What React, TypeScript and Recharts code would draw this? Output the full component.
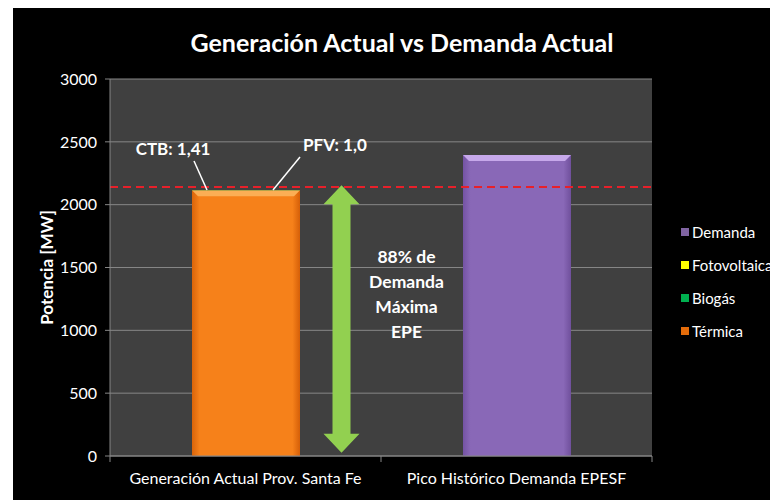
import {
  Bar,
  BarChart,
  CartesianGrid,
  Legend,
  ReferenceLine,
  XAxis,
  YAxis,
} from "recharts";

const categories = ["Generación Actual Prov. Santa Fe", "Pico Histórico Demanda EPESF"];
const termica = [2115, 0];
const biogas = [1.41, 0];
const fotovoltaica = [1.0, 0];
const demanda = [0, 2395];
const yTicks = [0, 500, 1000, 1500, 2000, 2500, 3000];
const demandaMaxima = 2140;
const arrowRange = [2155, 25];
const arrowText = ["88% de", "Demanda", "Máxima", "EPE"];
const legendOrder = ["Demanda", "Fotovoltaica", "Biogás", "Térmica"];

const data = categories.map((name, i) => ({
  name,
  termica: termica[i],
  biogas: biogas[i],
  fotovoltaica: fotovoltaica[i],
  demanda: demanda[i],
}));

const fmt = (v: number) => v.toFixed(v % 1 === 0 ? 1 : 2).replace(".", ",");

const BevelBar = (props: any) => {
  const { x, y, width, height, dataKey } = props;
  if (!height || height <= 0) return null;
  const b = 6;
  const isT = dataKey === "termica";
  return (
    <g>
      <rect x={x} y={y} width={width} height={height} fill={isT ? "url(#gradT)" : "url(#gradD)"} />
      <polygon
        points={`${x},${y} ${x + width},${y} ${x + width - b},${y + b} ${x + b},${y + b}`}
        fill={isT ? "#fbae55" : "#c6a8ea"}
      />
    </g>
  );
};

// leader lines for the tiny CTB / PFV segments on top of the first bar
const Callouts = (props: any) => {
  const { index } = props;
  const vb = props.viewBox || props;
  if (!biogas[index]) return null;
  const { x, y, width } = vb;
  return (
    <g fill="#fff" fontWeight="bold" fontSize={17}>
      <line x1={x + 15} y1={y} x2={x + 2} y2={y - 29} stroke="#fff" strokeWidth={1.5} />
      <text x={x - 19} y={y - 35} textAnchor="middle">
        CTB: {fmt(biogas[index])}
      </text>
      <line x1={x + 81} y1={y} x2={x + width} y2={y - 33} stroke="#fff" strokeWidth={1.5} />
      <text x={x + width + 3} y={y - 39} textAnchor="start">
        PFV: {fmt(fotovoltaica[index])}
      </text>
    </g>
  );
};

const ArrowShape = (props: any) => {
  const { x1, y1, y2 } = props;
  const cx = x1 + 96;
  const hw = 18;
  const sw = 9;
  const hh = 19;
  const pts = [
    [cx, y1], [cx + hw, y1 + hh], [cx + sw, y1 + hh], [cx + sw, y2 - hh], [cx + hw, y2 - hh],
    [cx, y2], [cx - hw, y2 - hh], [cx - sw, y2 - hh], [cx - sw, y1 + hh], [cx - hw, y1 + hh],
  ];
  return (
    <g>
      <polygon points={pts.map((p) => p.join(",")).join(" ")} fill="#92d050" />
      {arrowText.map((t, i) => (
        <text key={t} x={cx + 65} y={y1 + 78 + i * 25} textAnchor="middle" fill="#fff" fontWeight="bold" fontSize={17.5}>
          {t}
        </text>
      ))}
    </g>
  );
};

const XTick = (props: any) => {
  const { x, y, payload, index } = props;
  const half = payload.offset ?? 0;
  return (
    <g>
      <line x1={x - half} x2={x - half} y1={y - 8} y2={y - 2} stroke="#868686" />
      {index === categories.length - 1 && (
        <line x1={x + half} x2={x + half} y1={y - 8} y2={y - 2} stroke="#868686" />
      )}
      <text x={x} y={y + 20} textAnchor="middle" fill="#fff" fontSize={16}>
        {payload.value}
      </text>
    </g>
  );
};

const LegendBox = (props: any) => {
  const items = [...(props.payload || [])].sort(
    (a: any, b: any) => legendOrder.indexOf(a.value) - legendOrder.indexOf(b.value)
  );
  return (
    <div>
      {items.map((it: any) => (
        <div
          key={it.value}
          style={{ height: 33, display: "flex", alignItems: "center", color: "#fff", fontSize: 15, whiteSpace: "nowrap" }}
        >
          <span style={{ display: "inline-block", width: 8, height: 8, background: it.color, marginLeft: 3, marginRight: 3 }} />
          {it.value}
        </div>
      ))}
    </div>
  );
};

export default function App() {
  return (
    <div
      style={{
        marginLeft: 5,
        marginTop: -3,
        width: 765,
        height: 495,
        background: "#000",
        position: "relative",
        fontFamily: "Lato",
      }}
    >
      <div
        style={{
          position: "absolute",
          top: 22,
          left: 0,
          width: 778,
          textAlign: "center",
          color: "#fff",
          fontSize: 25,
          fontWeight: "bold",
          lineHeight: "30px",
        }}
      >
        Generación Actual vs Demanda Actual
      </div>
      <BarChart
        width={765}
        height={495}
        data={data}
        barSize={108}
        margin={{ top: 74, right: 126, bottom: 14, left: 13 }}
      >
        <defs>
          <linearGradient id="gradT" x1="0" y1="0" x2="1" y2="0">
            <stop offset="0" stopColor="#d9640a" />
            <stop offset="0.07" stopColor="#f6811a" />
            <stop offset="0.93" stopColor="#f6811a" />
            <stop offset="1" stopColor="#d55f08" />
          </linearGradient>
          <linearGradient id="gradD" x1="0" y1="0" x2="1" y2="0">
            <stop offset="0" stopColor="#7453a3" />
            <stop offset="0.07" stopColor="#8968b7" />
            <stop offset="0.93" stopColor="#8968b7" />
            <stop offset="1" stopColor="#70509c" />
          </linearGradient>
        </defs>
        <CartesianGrid vertical={false} stroke="#868686" fill="#404040" />
        <XAxis
          dataKey="name"
          height={30}
          stroke="#868686"
          tickLine={false}
          tick={<XTick />}
          interval={0}
        />
        <YAxis
          width={84}
          domain={[0, 3000]}
          ticks={yTicks}
          stroke="#868686"
          tickSize={5}
          tickMargin={8}
          tick={{ fill: "#fff", fontSize: 16 }}
          label={{
            content: (p: any) => {
              const vb = p.viewBox;
              const cx = vb.x + 20;
              const cy = vb.y + vb.height / 2;
              return (
                <text
                  x={cx}
                  y={cy}
                  transform={`rotate(-90 ${cx} ${cy})`}
                  textAnchor="middle"
                  dominantBaseline="central"
                  fill="#fff"
                  fontWeight="bold"
                  fontSize={17}
                >
                  Potencia [MW]
                </text>
              );
            },
          }}
        />
        <Legend
          layout="vertical"
          align="center"
          verticalAlign="middle"
          wrapperStyle={{ left: 665, top: 210, width: 100 }}
          content={<LegendBox />}
        />
        <Bar dataKey="termica" name="Térmica" stackId="a" fill="#e46c0a" shape={<BevelBar />} isAnimationActive={false} />
        <Bar dataKey="biogas" name="Biogás" stackId="a" fill="#00b050" isAnimationActive={false} label={<Callouts />} />
        <Bar dataKey="fotovoltaica" name="Fotovoltaica" stackId="a" fill="#ffff00" isAnimationActive={false} />
        <Bar dataKey="demanda" name="Demanda" stackId="a" fill="#8064a2" shape={<BevelBar />} isAnimationActive={false} />
        <ReferenceLine
          segment={[
            { x: categories[0], y: arrowRange[0] },
            { x: categories[0], y: arrowRange[1] },
          ]}
          shape={ArrowShape}
        />
        <ReferenceLine y={demandaMaxima} stroke="#e8202a" strokeWidth={2} strokeDasharray="8 5" />
      </BarChart>
    </div>
  );
}
